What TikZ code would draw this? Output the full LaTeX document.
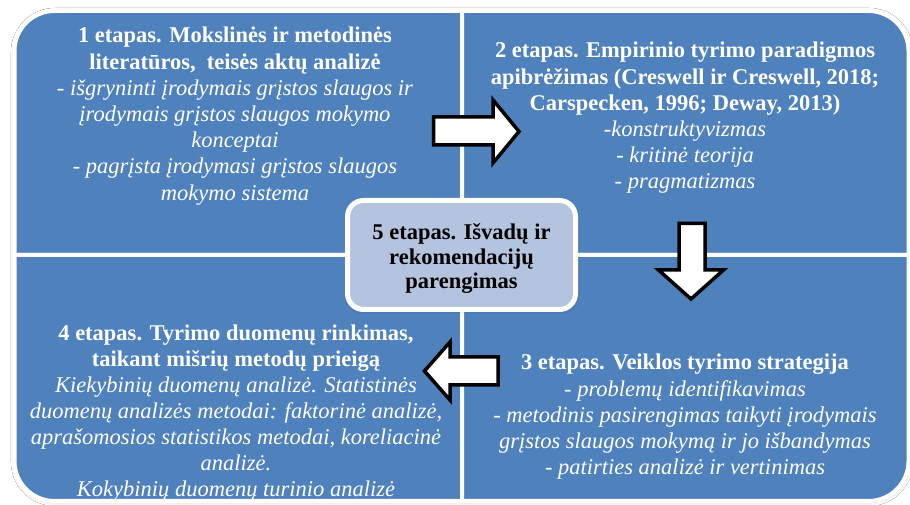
\documentclass[tikz,border=0pt]{standalone}
\usepackage{fontspec}
\setmainfont{Liberation Serif}
\usetikzlibrary{shadows.blur}
\definecolor{quadblue}{HTML}{4F81BD}
\definecolor{hubfill}{HTML}{B4C3DE}
\begin{document}
\begin{tikzpicture}[x=1pt,y=1pt,
  quad/.style={fill=quadblue, draw=white, line width=4pt},
  stagetext/.style={text=white, align=center, anchor=north, inner sep=0pt,
    font=\fontsize{22.5}{26.2}\selectfont},
  blockarrow/.style={fill=white, draw=black, line width=3.5pt, line join=miter},
  hub/.style={fill=hubfill, draw=white, line width=5pt, rounded corners=16pt,
    minimum width=228pt, minimum height=109pt, inner sep=0pt,
    blur shadow={shadow xshift=0.5pt, shadow yshift=-1.5pt, shadow blur radius=3pt, shadow opacity=25}},
  hubtext/.style={align=center, inner sep=0pt, font=\fontsize{22.5}{24.5}\selectfont\bfseries}]
\useasboundingbox (0,0) rectangle (910,505);
\fill[white] (0,0) rectangle (910,505);

% soft shadow behind the whole matrix
\path[fill=quadblue, draw=white, line width=3pt,
  blur shadow={shadow xshift=0.5pt, shadow yshift=-1pt, shadow blur radius=4pt, shadow opacity=22}]
  (14.5,250) -- (14.5,454) arc[start angle=180,end angle=90,radius=40]
  -- (868.5,494) arc[start angle=90,end angle=0,radius=40]
  -- (908.5,44) arc[start angle=0,end angle=-90,radius=40]
  -- (54.5,4) arc[start angle=270,end angle=180,radius=40] -- cycle;

% four quadrants, each with one rounded outer corner
\path[quad] (14.5,250) -- (14.5,454) arc[start angle=180,end angle=90,radius=40] -- (462,494) -- (462,250) -- cycle;
\path[quad] (462,250) -- (462,494) -- (868.5,494) arc[start angle=90,end angle=0,radius=40] -- (908.5,250) -- cycle;
\path[quad] (14.5,250) -- (462,250) -- (462,4) -- (54.5,4) arc[start angle=270,end angle=180,radius=40] -- cycle;
\path[quad] (462,250) -- (908.5,250) -- (908.5,44) arc[start angle=0,end angle=-90,radius=40] -- (462,4) -- cycle;

% block arrows between stages
\draw[blockarrow] (433.5,388) -- (493,388) -- (493,405) -- (519,373.5) -- (493,342) -- (493,360) -- (433.5,360) -- cycle;
\draw[blockarrow] (679,281.5) -- (705,281.5) -- (705,235) -- (723.5,235) -- (691,206) -- (658.5,235) -- (679,235) -- cycle;
\draw[blockarrow] (498,148) -- (450,148) -- (450,163) -- (424.5,134) -- (450,105) -- (450,120) -- (498,120) -- cycle;

% stage texts
\node[stagetext] (s1) at (235,478) {\textbf{1 etapas. Mokslinės ir metodinės}\\
  \textbf{literatūros,~ teisės aktų analizė}\\
  \textit{- išgryninti įrodymais grįstos slaugos ir}\\
  \textit{įrodymais grįstos slaugos mokymo}\\
  \textit{konceptai}\\
  \textit{- pagrįsta įrodymasi grįstos slaugos}\\
  \textit{mokymo sistema}};

\node[stagetext] (s2) at (685,463) {\textbf{2 etapas. Empirinio tyrimo paradigmos}\\
  \textbf{apibrėžimas (Creswell ir Creswell, 2018;}\\
  \textbf{Carspecken, 1996; Deway, 2013)}\\
  \textit{-konstruktyvizmas}\\
  \textit{- kritinė teorija}\\
  \textit{- pragmatizmas}};

\node[stagetext, font=\fontsize{22.5}{25.9}\selectfont] (s4) at (236,180) {\textbf{4 etapas. Tyrimo duomenų rinkimas,}\\
  \textbf{taikant mišrių metodų prieigą}\\
  \textit{Kiekybinių duomenų analizė. Statistinės}\\
  \textit{duomenų analizės metodai: faktorinė analizė,}\\
  \textit{aprašomosios statistikos metodai, koreliacinė}\\
  \textit{analizė.}\\
  \textit{Kokybinių duomenų turinio analizė}};

\node[stagetext] (s3) at (685,151) {\textbf{3 etapas. Veiklos tyrimo strategija}\\
  \textit{- problemų identifikavimas}\\
  \textit{- metodinis pasirengimas taikyti įrodymais}\\
  \textit{grįstos slaugos mokymą ir jo išbandymas}\\
  \textit{- patirties analizė ir vertinimas}};

% central stage
\node[hub] (s5) at (461.5,250) {};
\node[hubtext] (s5text) at ([yshift=-4pt]s5.center) {5 etapas. Išvadų ir\\ rekomendacijų\\ parengimas};
\end{tikzpicture}
\end{document}
